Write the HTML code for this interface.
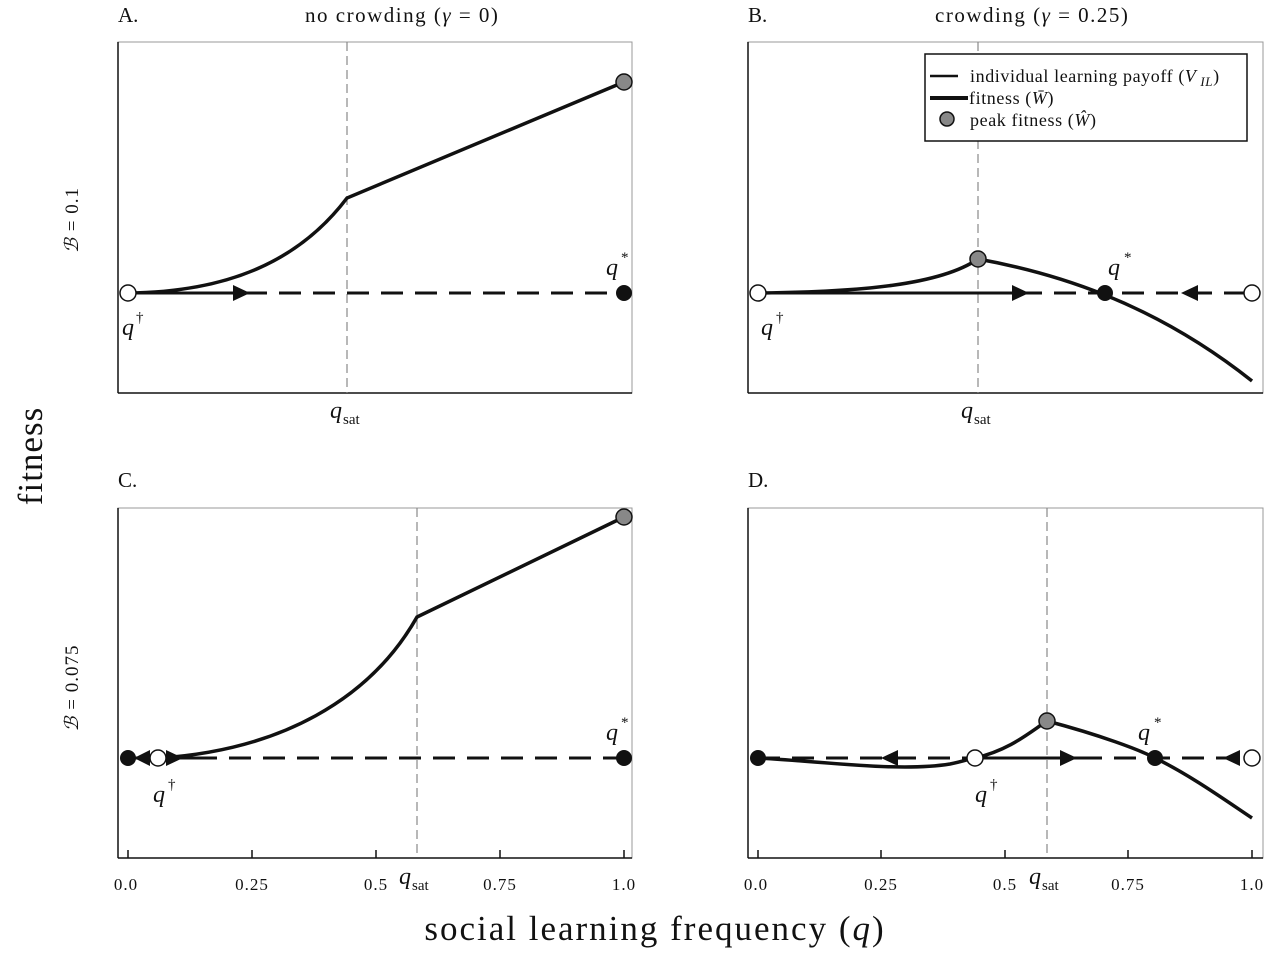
<!DOCTYPE html>
<html><head><meta charset="utf-8"><style>
body{margin:0;background:#fff}
svg text{font-family:"Liberation Serif",serif;fill:#111}
</style></head><body>
<svg width="1278" height="955" viewBox="0 0 1278 955" xmlns="http://www.w3.org/2000/svg">
<defs>
<style>.box{fill:none;stroke:#999;stroke-width:1}.ax{stroke:#111;stroke-width:1.5}.vd{stroke:#888;stroke-width:1.2;stroke-dasharray:9,5}.cur{fill:none;stroke:#111;stroke-width:3.5}.bl{stroke:#111;stroke-width:3}.bd{stroke:#111;stroke-width:3;stroke-dasharray:22,12}.tk{font-size:17px;letter-spacing:1px}</style>
</defs>
<!-- titles -->
<text x="118" y="22" font-size="21">A.</text>
<text x="305" y="22" font-size="21" letter-spacing="1.5">no crowding (<tspan font-style="italic">γ</tspan> = 0)</text>
<text x="748" y="22" font-size="21">B.</text>
<text x="935" y="22" font-size="21" letter-spacing="1.5">crowding (<tspan font-style="italic">γ</tspan> = 0.25)</text>
<text x="118" y="487" font-size="21">C.</text>
<text x="748" y="487" font-size="21">D.</text>
<text transform="translate(42,456) rotate(-90)" font-size="35" letter-spacing="1" text-anchor="middle">fitness</text>
<text transform="translate(78,220) rotate(-90)" font-size="19" letter-spacing="1" text-anchor="middle"><tspan font-style="italic">ℬ</tspan> = 0.1</text>
<text transform="translate(78,688) rotate(-90)" font-size="19" letter-spacing="1" text-anchor="middle"><tspan font-style="italic">ℬ</tspan> = 0.075</text>
<text x="655" y="940" font-size="35" letter-spacing="2" text-anchor="middle">social learning frequency (<tspan font-style="italic">q</tspan>)</text>

<!-- Panel A -->
<rect class="box" x="118" y="42" width="514" height="351"/>
<line class="ax" x1="118" y1="42" x2="118" y2="393"/><line class="ax" x1="118" y1="393" x2="632" y2="393"/>
<line class="vd" x1="347" y1="42" x2="347" y2="393"/>
<line class="bl" x1="128" y1="293" x2="245" y2="293"/><line class="bd" x1="245" y1="293" x2="624" y2="293"/>
<path class="cur" d="M128,293 C230,292 300,260 347,198 L624,82"/>
<polygon points="233,285 233,301 250,293" fill="#111"/>
<circle cx="128" cy="293" r="8" fill="#fff" stroke="#111" stroke-width="1.5"/>
<circle cx="624" cy="293" r="8" fill="#111"/>
<circle cx="624" cy="82" r="8" fill="#888" stroke="#111" stroke-width="1.5"/>
<text x="122" y="335" font-size="24" font-style="italic">q</text><text x="136" y="322" font-size="15">†</text>
<text x="606" y="275" font-size="24" font-style="italic">q</text><text x="621" y="262" font-size="15">*</text>
<text x="330" y="418" font-size="24" font-style="italic">q</text><text x="343" y="424" font-size="15">sat</text>

<!-- Panel B -->
<rect class="box" x="748" y="42" width="515" height="351"/>
<line class="ax" x1="748" y1="42" x2="748" y2="393"/><line class="ax" x1="748" y1="393" x2="1263" y2="393"/>
<line class="vd" x1="978" y1="42" x2="978" y2="393"/>
<line class="bl" x1="758" y1="293" x2="1020" y2="293"/><line class="bd" x1="1020" y1="293" x2="1252" y2="293"/>
<path class="cur" d="M758,293 C860,292 940,285 978,259 C1050,272 1150,300 1252,381"/>
<polygon points="1012,285 1012,301 1029,293" fill="#111"/>
<polygon points="1198,285 1198,301 1181,293" fill="#111"/>
<circle cx="758" cy="293" r="8" fill="#fff" stroke="#111" stroke-width="1.5"/>
<circle cx="1252" cy="293" r="8" fill="#fff" stroke="#111" stroke-width="1.5"/>
<circle cx="1105" cy="293" r="8" fill="#111"/>
<circle cx="978" cy="259" r="8" fill="#888" stroke="#111" stroke-width="1.5"/>
<text x="761" y="335" font-size="24" font-style="italic">q</text><text x="776" y="322" font-size="15">†</text>
<text x="1108" y="275" font-size="24" font-style="italic">q</text><text x="1124" y="262" font-size="15">*</text>
<text x="961" y="418" font-size="24" font-style="italic">q</text><text x="974" y="424" font-size="15">sat</text>
<!-- legend -->
<rect x="925" y="54" width="322" height="87" fill="#fff" stroke="#111" stroke-width="1.5"/>
<line x1="930" y1="76" x2="958" y2="76" stroke="#111" stroke-width="2.5"/>
<line x1="930" y1="98" x2="968" y2="98" stroke="#111" stroke-width="4"/>
<circle cx="947" cy="119" r="7" fill="#888" stroke="#111" stroke-width="1.5"/>
<text x="970" y="82" font-size="18" letter-spacing="0.6">individual learning payoff (<tspan font-style="italic">V</tspan><tspan font-size="13" font-style="italic" dy="4"> IL</tspan><tspan dy="-4">)</tspan></text>
<text x="969" y="104" font-size="18" letter-spacing="0.6">fitness (<tspan font-style="italic">W̄</tspan>)</text>
<text x="970" y="126" font-size="18" letter-spacing="0.6">peak fitness (<tspan font-style="italic">Ŵ</tspan>)</text>

<!-- Panel C -->
<rect class="box" x="118" y="508" width="514" height="350"/>
<line class="ax" x1="118" y1="508" x2="118" y2="858"/><line class="ax" x1="118" y1="858" x2="632" y2="858"/>
<line class="vd" x1="417" y1="508" x2="417" y2="858"/>
<line class="bl" x1="128" y1="758" x2="195" y2="758"/><line class="bd" x1="195" y1="758" x2="624" y2="758"/>
<path class="cur" d="M160,758 C280,750 370,700 417,617 L624,517"/>
<polygon points="150,750 150,766 134,758" fill="#111"/>
<polygon points="166,750 166,766 183,758" fill="#111"/>
<circle cx="128" cy="758" r="8" fill="#111"/>
<circle cx="158" cy="758" r="8" fill="#fff" stroke="#111" stroke-width="1.5"/>
<circle cx="624" cy="758" r="8" fill="#111"/>
<circle cx="624" cy="517" r="8" fill="#888" stroke="#111" stroke-width="1.5"/>
<text x="153" y="802" font-size="24" font-style="italic">q</text><text x="168" y="789" font-size="15">†</text>
<text x="606" y="740" font-size="24" font-style="italic">q</text><text x="621" y="727" font-size="15">*</text>
<g class="tk" text-anchor="middle">
<line class="ax" x1="128" y1="858" x2="128" y2="850"/><line class="ax" x1="252" y1="858" x2="252" y2="850"/><line class="ax" x1="376" y1="858" x2="376" y2="850"/><line class="ax" x1="500" y1="858" x2="500" y2="850"/><line class="ax" x1="624" y1="858" x2="624" y2="850"/>
<text x="126" y="890">0.0</text><text x="252" y="890">0.25</text><text x="376" y="890">0.5</text><text x="500" y="890">0.75</text><text x="624" y="890">1.0</text>
</g>
<text x="399" y="884" font-size="24" font-style="italic">q</text><text x="412" y="890" font-size="15">sat</text>

<!-- Panel D -->
<rect class="box" x="748" y="508" width="515" height="350"/>
<line class="ax" x1="748" y1="508" x2="748" y2="858"/><line class="ax" x1="748" y1="858" x2="1263" y2="858"/>
<line class="vd" x1="1047" y1="508" x2="1047" y2="858"/>
<line class="bd" x1="758" y1="758" x2="975" y2="758"/><line class="bl" x1="975" y1="758" x2="1080" y2="758"/><line class="bd" x1="1080" y1="758" x2="1252" y2="758"/>
<path class="cur" d="M758,758 C830,762 900,772 950,764 C965,761 972,758 975,758 C1010,750 1030,732 1047,721 C1100,735 1140,750 1155,758 C1190,775 1225,800 1252,818"/>
<polygon points="898,750 898,766 881,758" fill="#111"/>
<polygon points="1060,750 1060,766 1077,758" fill="#111"/>
<polygon points="1240,750 1240,766 1223,758" fill="#111"/>
<circle cx="758" cy="758" r="8" fill="#111"/>
<circle cx="975" cy="758" r="8" fill="#fff" stroke="#111" stroke-width="1.5"/>
<circle cx="1155" cy="758" r="8" fill="#111"/>
<circle cx="1252" cy="758" r="8" fill="#fff" stroke="#111" stroke-width="1.5"/>
<circle cx="1047" cy="721" r="8" fill="#888" stroke="#111" stroke-width="1.5"/>
<text x="975" y="802" font-size="24" font-style="italic">q</text><text x="990" y="789" font-size="15">†</text>
<text x="1138" y="740" font-size="24" font-style="italic">q</text><text x="1154" y="727" font-size="15">*</text>
<g class="tk" text-anchor="middle">
<line class="ax" x1="758" y1="858" x2="758" y2="850"/><line class="ax" x1="881" y1="858" x2="881" y2="850"/><line class="ax" x1="1005" y1="858" x2="1005" y2="850"/><line class="ax" x1="1128" y1="858" x2="1128" y2="850"/><line class="ax" x1="1252" y1="858" x2="1252" y2="850"/>
<text x="756" y="890">0.0</text><text x="881" y="890">0.25</text><text x="1005" y="890">0.5</text><text x="1128" y="890">0.75</text><text x="1252" y="890">1.0</text>
</g>
<text x="1029" y="884" font-size="24" font-style="italic">q</text><text x="1042" y="890" font-size="15">sat</text>
</svg>
</body></html>
